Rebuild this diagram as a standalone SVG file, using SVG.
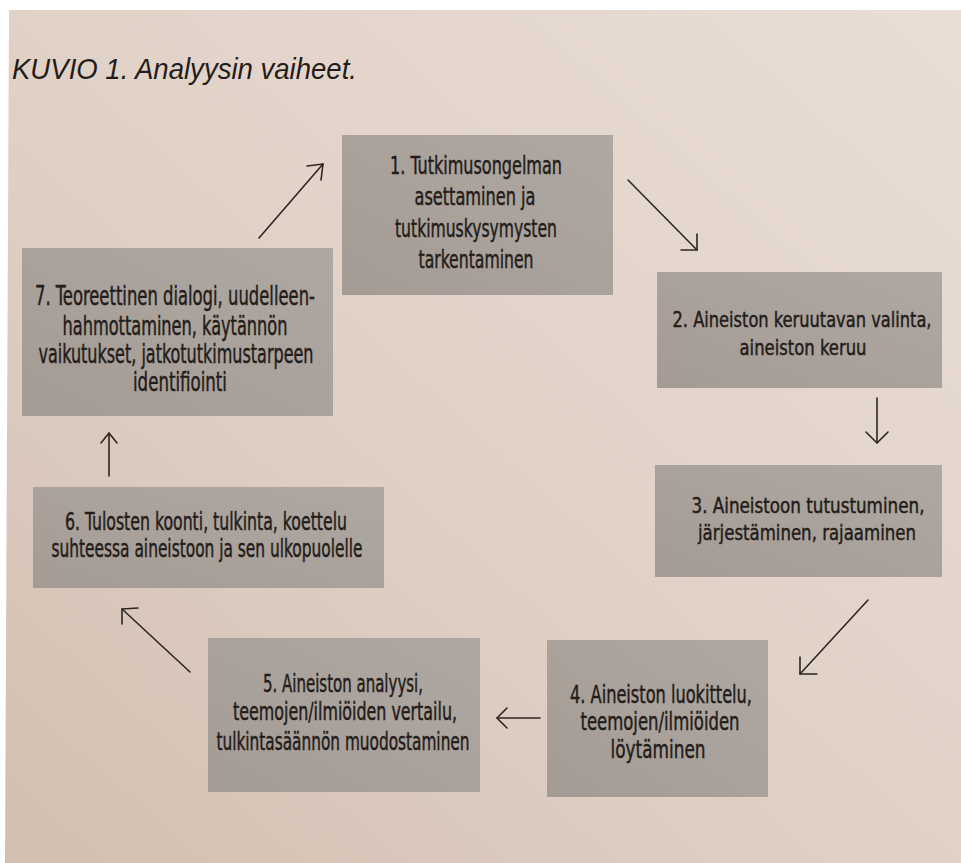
<svg xmlns="http://www.w3.org/2000/svg" width="961" height="863" viewBox="0 0 961 863">
<defs>
<linearGradient id="bg" x1="1" y1="0" x2="0" y2="1">
<stop offset="0" stop-color="#e9ddd5"/>
<stop offset="0.5" stop-color="#e1d2c8"/>
<stop offset="1" stop-color="#d3bfb1"/>
</linearGradient>
<linearGradient id="bx" x1="1" y1="0" x2="0" y2="1">
<stop offset="0" stop-color="#afa8a2"/>
<stop offset="1" stop-color="#a49b94"/>
</linearGradient>
<style>
.box{fill:url(#bx);}
.t{font-family:"Liberation Sans Narrow","DejaVu Sans Condensed","Liberation Sans",sans-serif;fill:#231c19;stroke:#231c19;stroke-width:0.45;text-anchor:middle;}
.ttl{font-family:"Liberation Sans","Open Sans",sans-serif;font-style:italic;fill:#231c19;font-size:30px;}
.c line, .c polyline{stroke:#2e2621;stroke-width:1.6;fill:none;stroke-linecap:round;stroke-linejoin:round;}
</style>
</defs>
<rect x="0" y="0" width="961" height="863" fill="#ffffff"/>
<polygon points="9,10 961,10 961,863 5,863" fill="url(#bg)"/>
<text class="ttl" x="12" y="79" textLength="345" lengthAdjust="spacingAndGlyphs">KUVIO 1. Analyysin vaiheet.</text>

<g id="node1">
<rect class="box" x="342" y="135" width="271" height="160"/>
<text class="t" font-size="25"><tspan x="476" y="174" textLength="172" lengthAdjust="spacingAndGlyphs">1. Tutkimusongelman</tspan><tspan x="475" y="205" textLength="121" lengthAdjust="spacingAndGlyphs">asettaminen ja</tspan><tspan x="476" y="237" textLength="162" lengthAdjust="spacingAndGlyphs">tutkimuskysymysten</tspan><tspan x="476" y="268" textLength="115" lengthAdjust="spacingAndGlyphs">tarkentaminen</tspan></text>
</g>

<g id="node2">
<rect class="box" x="657" y="272" width="285" height="116"/>
<text class="t" font-size="22"><tspan x="802" y="327" textLength="259" lengthAdjust="spacingAndGlyphs">2. Aineiston keruutavan valinta,</tspan><tspan x="803" y="355" textLength="127" lengthAdjust="spacingAndGlyphs">aineiston keruu</tspan></text>
</g>

<g id="node3">
<rect class="box" x="655" y="465" width="287" height="112"/>
<text class="t" font-size="22"><tspan x="808" y="513" textLength="233" lengthAdjust="spacingAndGlyphs">3. Aineistoon tutustuminen,</tspan><tspan x="807" y="540" textLength="218" lengthAdjust="spacingAndGlyphs">järjestäminen, rajaaminen</tspan></text>
</g>

<g id="node4">
<rect class="box" x="547" y="640" width="221" height="157"/>
<text class="t" font-size="25"><tspan x="661" y="703" textLength="182" lengthAdjust="spacingAndGlyphs">4. Aineiston luokittelu,</tspan><tspan x="660" y="730" textLength="159" lengthAdjust="spacingAndGlyphs">teemojen/ilmiöiden</tspan><tspan x="658" y="758" textLength="95" lengthAdjust="spacingAndGlyphs">löytäminen</tspan></text>
</g>

<g id="node5">
<rect class="box" x="208" y="638" width="272" height="154"/>
<text class="t" font-size="24"><tspan x="343" y="692" textLength="160" lengthAdjust="spacingAndGlyphs">5. Aineiston analyysi,</tspan><tspan x="345" y="720" textLength="224" lengthAdjust="spacingAndGlyphs">teemojen/ilmiöiden vertailu,</tspan><tspan x="343" y="750" textLength="253" lengthAdjust="spacingAndGlyphs">tulkintasäännön muodostaminen</tspan></text>
</g>

<g id="node6">
<rect class="box" x="33" y="487" width="351" height="101"/>
<text class="t" font-size="24"><tspan x="206" y="530" textLength="282" lengthAdjust="spacingAndGlyphs">6. Tulosten koonti, tulkinta, koettelu</tspan><tspan x="207" y="557" textLength="311" lengthAdjust="spacingAndGlyphs">suhteessa aineistoon ja sen ulkopuolelle</tspan></text>
</g>

<g id="node7">
<rect class="box" x="22" y="248" width="311" height="168"/>
<text class="t" font-size="26"><tspan x="175" y="305" textLength="280" lengthAdjust="spacingAndGlyphs">7. Teoreettinen dialogi, uudelleen-</tspan><tspan x="175" y="335" textLength="225" lengthAdjust="spacingAndGlyphs">hahmottaminen, käytännön</tspan><tspan x="176" y="363" textLength="275" lengthAdjust="spacingAndGlyphs">vaikutukset, jatkotutkimustarpeen</tspan><tspan x="180" y="391" textLength="94" lengthAdjust="spacingAndGlyphs">identifiointi</tspan></text>
</g>

<g id="connectors" class="c">
<line x1="259" y1="238" x2="323" y2="164"/>
<polyline points="307,166 323,164 321,180"/>
<line x1="628" y1="180" x2="697" y2="250"/>
<polyline points="681,250 697,250 697,234"/>
<line x1="877" y1="398" x2="877" y2="443"/>
<polyline points="866,432 877,443 888,432"/>
<line x1="868" y1="600" x2="800" y2="674"/>
<polyline points="800,657 800,674 817,674"/>
<line x1="540" y1="718" x2="497" y2="718"/>
<polyline points="507,708 497,718 507,728"/>
<line x1="190" y1="672" x2="122" y2="609"/>
<polyline points="138,608 122,609 122,624"/>
<line x1="109" y1="476" x2="109" y2="433"/>
<polyline points="101,443 109,433 117,443"/>
</g>
</svg>
